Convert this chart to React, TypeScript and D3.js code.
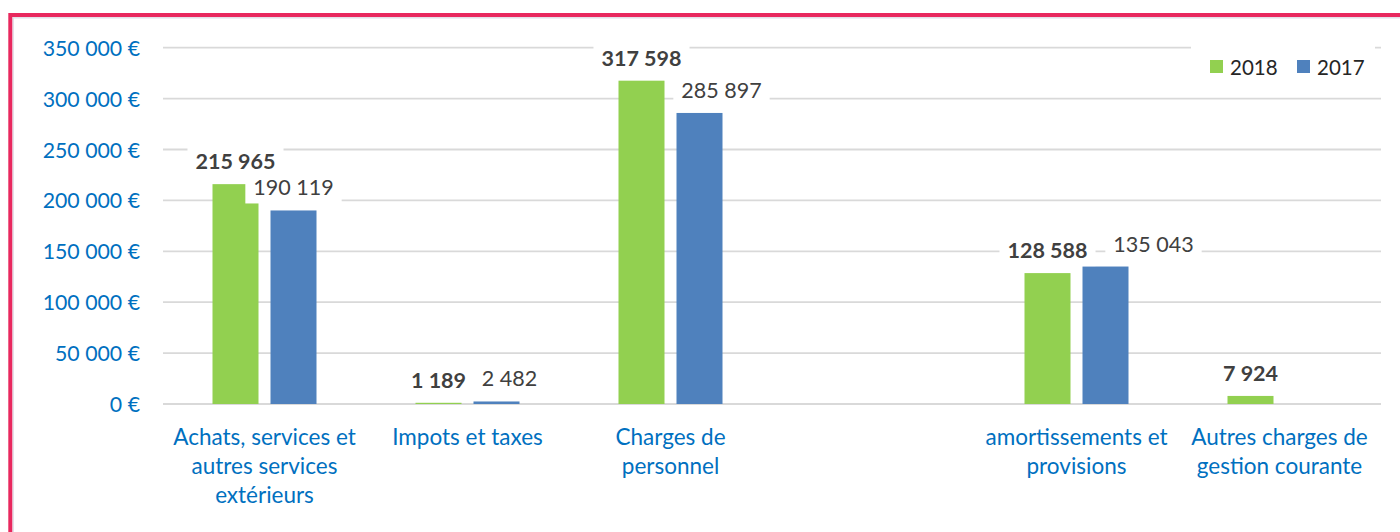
import React, { useEffect, useRef } from 'react';
import * as d3 from 'd3';

const categories: string[] = [
  'Achats, services et\nautres services\nextérieurs',
  'Impots et taxes',
  'Charges de\npersonnel',
  '',
  'amortissements et\nprovisions',
  'Autres charges de\ngestion courante',
];
const seriesNames: string[] = ['2018', '2017'];
const values2018: (number | null)[] = [215965, 1189, 317598, null, 128588, 7924];
const values2017: (number | null)[] = [190119, 2482, 285897, null, 135043, null];
const yTicks: number[] = [0, 50000, 100000, 150000, 200000, 250000, 300000, 350000];
// horizontal nudges Excel applied to avoid label collisions (2017 series)
const labelNudge2017: number[] = [0, 13, 22, 0, 48, 0];

const COLORS: Record<string, string> = { '2018': '#92D050', '2017': '#4F81BD' };
const FONT = "Lato, 'Open Sans', sans-serif";

export default function App() {
  const ref = useRef<SVGSVGElement | null>(null);

  useEffect(() => {
    const svg = d3.select(ref.current);
    svg.selectAll('*').remove();

    const W = 1400;
    const H = 532;
    const left = 163;
    const right = 1381;
    const locale = d3.formatLocale({ decimal: ',', thousands: '\u00a0', grouping: [3], currency: ['', ' €'] });
    const fmt = locale.format(',d');

    svg.append('rect').attr('x', 0).attr('y', 0).attr('width', W).attr('height', H).attr('fill', '#fff');

    // frame
    svg.append('rect').attr('x', 13.2).attr('y', 17.8).attr('width', 2000).attr('height', 1000)
      .attr('fill', 'none').attr('stroke', '#E2DFE8').attr('stroke-width', 1.5);
    svg.append('rect').attr('x', 10.3).attr('y', 15).attr('width', 2000).attr('height', 1000)
      .attr('fill', 'none').attr('stroke', '#E8285E').attr('stroke-width', 4);

    const x0 = d3.scaleBand<string>().domain(categories.map((_, i) => String(i))).range([left, right]).padding(0);
    const groupW = 104;
    const x1 = d3.scaleBand<string>().domain(seriesNames).range([0, groupW]).paddingInner(12 / 58).paddingOuter(0);
    const y = d3.scaleLinear().domain([0, 350000]).range([404, 47.7]);
    const groupStart = (i: number) => (x0(String(i)) as number) + (x0.bandwidth() - groupW) / 2;

    // gridlines
    svg.append('g').selectAll('line').data(yTicks).join('line')
      .attr('x1', left).attr('x2', right)
      .attr('y1', (d) => y(d)).attr('y2', (d) => y(d))
      .attr('stroke', '#D9D9D9').attr('stroke-width', 1.8);

    // y tick labels
    svg.append('g').selectAll('text').data(yTicks).join('text')
      .attr('x', 140).attr('y', (d) => y(d))
      .attr('text-anchor', 'end').attr('dominant-baseline', 'central')
      .attr('font-family', FONT).attr('font-size', 21.3).attr('fill', '#0070C0')
      .text((d) => fmt(d) + ' €');

    // category labels
    const cat = svg.append('g');
    categories.forEach((c, i) => {
      const cx = (x0(String(i)) as number) + x0.bandwidth() / 2;
      const t = cat.append('text').attr('x', cx).attr('y', 445)
        .attr('text-anchor', 'middle').attr('font-family', FONT).attr('font-size', 22.5).attr('fill', '#0070C0');
      c.split('\n').forEach((line, k) => {
        t.append('tspan').attr('x', cx).attr('y', 445 + k * 29).text(line);
      });
    });

    const seriesData: Record<string, (number | null)[]> = { '2018': values2018, '2017': values2017 };

    // bars
    seriesNames.forEach((s) => {
      const vals = seriesData[s];
      svg.append('g').selectAll('rect')
        .data(vals.map((v, i) => ({ v, i })).filter((d) => d.v !== null))
        .join('rect')
        .attr('x', (d) => groupStart(d.i) + (x1(s) as number))
        .attr('width', x1.bandwidth())
        .attr('y', (d) => y(d.v as number))
        .attr('height', (d) => y(0) - y(d.v as number))
        .attr('fill', COLORS[s]);
    });

    // data labels
    seriesNames.forEach((s) => {
      const vals = seriesData[s];
      vals.forEach((v, i) => {
        if (v === null) return;
        const nudge = s === '2017' ? labelNudge2017[i] : 0;
        const cx = groupStart(i) + (x1(s) as number) + x1.bandwidth() / 2 + nudge;
        const cy = y(v) - 23;
        const g = svg.append('g');
        const rect = g.append('rect').attr('fill', '#fff');
        const t = g.append('text').attr('x', cx).attr('y', cy)
          .attr('text-anchor', 'middle').attr('dominant-baseline', 'central')
          .attr('font-family', FONT).attr('font-size', 21.5)
          .attr('font-weight', s === '2018' ? 700 : 400)
          .attr('fill', '#404040')
          .text(fmt(v));
        const bb = (t.node() as SVGTextElement).getBBox();
        rect.attr('x', bb.x - 8).attr('width', bb.width + 16).attr('y', cy - 17).attr('height', 33);
      });
    });

    // legend
    const lg = svg.append('g');
    lg.append('rect').attr('x', 1191).attr('y', 40).attr('width', 184).attr('height', 50).attr('fill', '#fff');
    const legendPos: Record<string, number> = { '2018': 1210, '2017': 1297 };
    seriesNames.forEach((s) => {
      const lx = legendPos[s];
      lg.append('rect').attr('x', lx).attr('y', 60).attr('width', 13).attr('height', 13).attr('fill', COLORS[s]);
      lg.append('text').attr('x', lx + 20).attr('y', 66.5).attr('dominant-baseline', 'central')
        .attr('font-family', FONT).attr('font-size', 20.5).attr('fill', '#262626').text(s);
    });
  }, []);

  return (
    <>
      <style>{`body{margin:0;}`}</style>
      <svg ref={ref} width={1400} height={532} style={{ display: 'block' }} />
    </>
  );
}
